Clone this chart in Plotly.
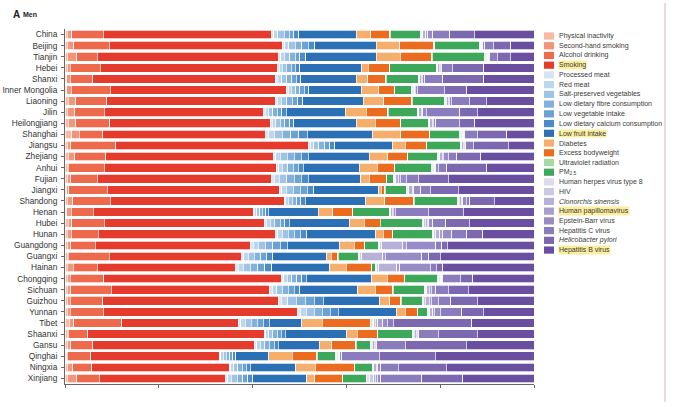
import plotly.graph_objects as go

provinces = ["China", "Beijing", "Tianjin", "Hebei", "Shanxi", "Inner Mongolia", "Liaoning", "Jilin",
             "Heilongjiang", "Shanghai", "Jiangsu", "Zhejiang", "Anhui", "Fujian", "Jiangxi", "Shandong",
             "Henan", "Hubei", "Hunan", "Guangdong", "Guangxi", "Hainan", "Chongqing", "Sichuan",
             "Guizhou", "Yunnan", "Tibet", "Shaanxi", "Gansu", "Qinghai", "Ningxia", "Xinjiang"]

factors = ["Physical inactivity", "Second-hand smoking", "Alcohol drinking", "Smoking", "Processed meat",
           "Red meat", "Salt-preserved vegetables", "Low dietary fibre consumption", "Low vegetable intake",
           "Low dietary calcium consumption", "Low fruit intake", "Diabetes", "Excess bodyweight",
           "Ultraviolet radiation", "PM<sub>2.5</sub>", "Human herpes virus type 8", "HIV",
           "<i>Clonorchis sinensis</i>", "Human papillomavirus", "Epstein-Barr virus", "Hepatitis C virus",
           "<i>Helicobacter pylori</i>", "Hepatitis B virus"]

highlighted = ["Smoking", "Low fruit intake", "Human papillomavirus", "Hepatitis B virus"]

colors = ["#f7b9a2", "#f4957b", "#ee6a4c", "#e53b2c", "#d6e5f4", "#bcd6ee", "#9fc4e6", "#82b2dc",
          "#6aa2d4", "#4b8cc8", "#2b6fb5", "#f6ae6d", "#ec6c1f", "#a7d9a3", "#3da85a", "#dcdcec",
          "#cac8e2", "#b7b1d8", "#a89fd0", "#978cc6", "#8a7cbd", "#7c68b1", "#6a4fa1"]

# Share of cancer deaths (%) by province, one list per risk factor (province order as above)
physical_inactivity = [0.5, 0.5, 0.5, 0.5, 0.4, 0.4, 0.7, 0.5, 0.7, 1.4, 0.5, 0.7, 0.5, 0.5, 0.4, 0.5,
                       0.4, 0.7, 0.5, 0.5, 0.5, 0.5, 0.5, 0.5, 0.5, 0.5, 0.9, 0.5, 0.5, 0.4, 0.5, 0.5]
second_hand_smoking = [0.9, 1.4, 2.0, 0.6, 0.7, 0.9, 1.6, 1.6, 1.6, 1.6, 0.7, 1.4, 0.2, 0.7, 0.4, 1.1,
                       0.9, 0.7, 0.8, 0.7, 0.2, 1.3, 0.6, 0.7, 0.6, 0.6, 1.0, 0.2, 0.7, 0.1, 1.1, 2.0]
alcohol_drinking = [6.8, 7.5, 4.4, 6.4, 4.8, 8.4, 6.6, 6.3, 7.2, 5.0, 9.6, 6.6, 7.7, 5.7, 8.2, 8.1,
                    4.7, 7.0, 5.8, 5.3, 8.7, 5.1, 7.1, 8.7, 7.0, 7.0, 10.2, 4.1, 4.7, 5.0, 4.1, 4.8]
smoking = [35.9, 36.9, 38.7, 37.9, 38.9, 37.5, 35.9, 33.9, 34.3, 34.8, 41.1, 35.7, 36.6, 37.2, 36.7, 37.0,
           34.3, 34.1, 37.8, 33.0, 28.3, 29.5, 38.0, 33.8, 37.5, 41.5, 24.9, 37.7, 34.6, 27.4, 29.4, 26.9]
processed_meat = [0.4, 0.6, 0.4, 0.3, 0.5, 0.4, 0.5, 0.4, 0.4, 0.6, 0.4, 0.5, 0.5, 0.5, 0.5, 0.3,
                  0.2, 0.4, 0.5, 0.6, 0.4, 0.5, 0.4, 0.5, 0.6, 0.6, 0.5, 0.3, 0.4, 0.3, 0.3, 0.4]
red_meat = [0.9, 0.8, 0.7, 0.6, 0.9, 0.7, 0.8, 0.7, 0.7, 1.2, 0.8, 1.0, 0.8, 1.1, 1.0, 0.6,
            0.5, 0.8, 0.9, 1.1, 0.9, 1.1, 0.7, 0.9, 1.3, 1.2, 0.9, 0.6, 0.7, 0.5, 0.6, 0.8]
salt_preserved_veg = [1.4, 1.4, 1.2, 0.9, 1.1, 0.9, 1.2, 0.9, 1.0, 1.7, 1.1, 1.5, 1.1, 1.6, 1.5, 0.9,
                      0.6, 1.0, 1.3, 1.5, 1.3, 1.5, 1.0, 1.2, 1.9, 1.7, 1.3, 0.9, 1.0, 0.7, 0.9, 1.2]
low_fibre = [1.0, 1.4, 1.2, 1.0, 1.0, 0.9, 1.1, 0.9, 1.0, 1.8, 1.2, 1.5, 1.2, 1.6, 1.5, 0.9,
             0.6, 1.1, 1.3, 1.6, 1.4, 1.6, 1.1, 1.3, 1.9, 1.7, 1.3, 0.9, 1.0, 0.7, 0.9, 1.2]
low_vegetable = [1.0, 1.4, 1.0, 0.9, 1.0, 1.0, 1.2, 1.0, 1.0, 1.7, 1.1, 1.5, 1.1, 1.5, 1.4, 0.9,
                 0.7, 1.0, 1.3, 1.6, 1.3, 1.5, 1.0, 1.3, 1.9, 1.7, 1.3, 0.9, 1.0, 0.7, 0.9, 1.1]
low_calcium = [1.0, 1.4, 1.2, 0.9, 1.0, 0.9, 1.1, 0.9, 0.9, 1.8, 1.1, 1.5, 1.1, 1.5, 1.4, 0.9,
               0.6, 1.0, 1.3, 1.5, 1.3, 1.5, 1.0, 1.2, 1.9, 1.7, 1.3, 0.8, 0.9, 0.6, 0.8, 1.1]
low_fruit = [12.4, 13.1, 15.1, 13.3, 11.8, 11.2, 12.9, 12.6, 13.3, 13.9, 12.2, 13.0, 11.9, 11.2, 13.9, 12.9,
             10.7, 12.7, 14.8, 11.2, 11.5, 12.3, 13.9, 12.3, 12.1, 12.4, 6.9, 13.1, 8.7, 7.0, 9.8, 11.4]
diabetes = [3.0, 5.0, 5.1, 1.4, 2.4, 3.8, 4.4, 4.5, 4.1, 6.0, 2.8, 3.9, 3.8, 1.8, 0.5, 4.1,
            3.1, 3.2, 1.6, 3.1, 0.9, 3.6, 3.3, 3.7, 2.1, 1.9, 4.3, 2.3, 2.7, 5.0, 4.1, 1.7]
excess_bodyweight = [4.0, 7.2, 6.6, 4.4, 3.9, 3.3, 5.9, 4.6, 5.3, 6.1, 4.5, 4.2, 3.6, 3.6, 0.8, 6.2,
                     4.1, 3.4, 1.9, 2.1, 1.4, 5.3, 3.7, 3.8, 2.4, 2.5, 10.4, 4.2, 5.1, 5.3, 8.3, 5.9]
ultraviolet = [0.1, 0.2, 0.2, 0.1, 0.1, 0.1, 0.1, 0.1, 0.1, 0.1, 0.1, 0.1, 0.1, 0.1, 0.1, 0.1,
               0.1, 0.1, 0.1, 0.1, 0.1, 0.1, 0.1, 0.1, 0.1, 0.1, 0.1, 0.1, 0.1, 0.1, 0.1, 0.1]
pm25 = [6.5, 9.5, 11.2, 10.0, 6.8, 3.6, 7.0, 6.2, 5.9, 6.4, 7.2, 6.3, 7.9, 1.4, 4.5, 9.1,
        7.9, 9.0, 8.5, 2.9, 4.3, 0.7, 7.0, 6.6, 4.5, 2.1, 0.3, 7.5, 3.1, 3.9, 3.8, 5.0]
hhv8 = [0.2, 0.1, 0.1, 0.1, 0.1, 0.1, 0.1, 0.1, 0.1, 0.1, 0.1, 0.2, 0.1, 0.2, 0.2, 0.3,
        0.1, 0.2, 0.2, 0.3, 0.2, 0.3, 0.1, 0.2, 0.2, 0.2, 0.2, 0.1, 0.1, 0.1, 0.1, 0.8]
hiv = [0.3, 0.2, 0.2, 0.2, 0.2, 0.2, 0.2, 0.2, 0.2, 0.2, 0.2, 0.3, 0.2, 0.3, 0.3, 0.2,
       0.2, 0.3, 0.4, 0.4, 0.5, 0.5, 0.2, 0.3, 0.4, 0.3, 0.3, 0.2, 0.2, 0.2, 0.2, 0.8]
clonorchis = [0.6, 0.3, 0.3, 0.3, 0.4, 0.3, 0.4, 0.5, 0.5, 0.3, 0.3, 0.5, 0.4, 0.6, 0.7, 0.4,
              0.3, 0.5, 0.9, 4.5, 4.5, 3.8, 0.3, 0.6, 0.8, 0.6, 0.6, 0.4, 0.4, 0.4, 0.5, 0.3]
hpv = [0.4, 0.2, 0.2, 0.2, 0.2, 0.2, 0.2, 0.3, 0.2, 0.2, 0.2, 0.3, 0.2, 0.4, 0.4, 0.3,
       0.2, 0.3, 0.6, 0.8, 0.5, 0.7, 0.2, 0.4, 0.5, 0.4, 1.0, 0.2, 0.2, 0.2, 0.3, 0.4]
ebv = [1.1, 0.4, 0.3, 0.3, 0.5, 0.4, 0.5, 0.7, 0.6, 0.3, 0.3, 1.0, 0.5, 1.3, 1.5, 0.8,
       0.4, 0.8, 2.0, 6.3, 7.8, 6.5, 0.3, 1.0, 1.5, 1.2, 1.0, 0.4, 0.4, 0.4, 0.7, 0.8]
hcv = [3.6, 1.8, 1.6, 2.3, 3.8, 5.7, 3.8, 7.2, 5.0, 2.6, 1.6, 1.8, 1.8, 2.5, 2.0, 0.7,
       7.1, 2.8, 3.2, 1.2, 1.5, 1.3, 3.7, 2.6, 2.6, 4.6, 1.3, 4.1, 6.0, 8.0, 3.7, 8.7]
h_pylori = [5.3, 3.7, 2.7, 6.7, 8.8, 4.8, 3.6, 3.7, 3.3, 6.3, 7.5, 5.1, 8.5, 6.4, 6.0, 5.2,
            7.5, 5.0, 3.4, 1.2, 2.4, 1.3, 2.6, 4.3, 5.7, 4.6, 16.7, 8.3, 13.1, 11.9, 10.3, 8.7]
hbv = [12.7, 5.0, 5.1, 10.7, 10.7, 14.4, 10.2, 12.1, 12.6, 5.8, 5.5, 11.4, 10.1, 18.3, 16.1, 8.5,
       15.1, 13.8, 10.9, 18.5, 20.0, 19.5, 13.1, 14.0, 12.1, 10.8, 13.3, 12.1, 14.4, 21.1, 18.7, 15.2]

series = [physical_inactivity, second_hand_smoking, alcohol_drinking, smoking, processed_meat, red_meat,
          salt_preserved_veg, low_fibre, low_vegetable, low_calcium, low_fruit, diabetes, excess_bodyweight,
          ultraviolet, pm25, hhv8, hiv, clonorchis, hpv, ebv, hcv, h_pylori, hbv]

FONT = "Liberation Sans Narrow, Liberation Sans, Arial, sans-serif"

fig = go.Figure()
for name, vals, col in zip(factors, series, colors):
    fig.add_trace(go.Bar(
        y=provinces, x=vals, name=name, orientation="h",
        marker=dict(color=col, line=dict(color="white", width=0.7)),
        showlegend=False,
    ))

W, H = 681, 407
ML, MR, MT, MB = 65, 147, 29, 23
PW, PH = W - ML - MR, H - MT - MB


def px(xp):
    return (xp - ML) / PW


def py(yp):
    return (H - MB - yp) / PH


shapes = []
annotations = []
for i, (name, col) in enumerate(zip(factors, colors)):
    yc = 36 + 9.73 * i
    shapes.append(dict(type="rect", xref="paper", yref="paper",
                       x0=px(544), x1=px(554), y0=py(yc + 3.6), y1=py(yc - 3.6),
                       fillcolor=col, line=dict(width=0)))
    plain = name.replace("<i>", "").replace("</i>", "")
    annotations.append(dict(xref="paper", yref="paper", x=px(557.5), y=py(yc),
                            xanchor="left", yanchor="middle", showarrow=False, text=name,
                            font=dict(size=7, color="#3a3a3a", family=FONT),
                            bgcolor="#fcee9f" if plain in highlighted else "rgba(0,0,0,0)",
                            borderpad=0))

# panel separator line on the right
shapes.append(dict(type="line", xref="paper", yref="paper", x0=px(665), x1=px(665),
                   y0=py(3), y1=py(402), line=dict(color="#d9b3b8", width=1)))

annotations.append(dict(xref="paper", yref="paper", x=px(10.5), y=py(14), xanchor="left",
                        yanchor="middle", showarrow=False, text="<b>A</b>",
                        font=dict(size=10, color="#222", family=FONT)))
annotations.append(dict(xref="paper", yref="paper", x=px(21), y=py(14.5), xanchor="left",
                        yanchor="middle", showarrow=False, text="<b>Men</b>",
                        font=dict(size=7, color="#222", family=FONT)))

fig.update_layout(
    width=W, height=H,
    margin=dict(l=ML, r=MR, t=MT, b=MB, autoexpand=False),
    barmode="stack", barnorm="percent", bargap=0.22,
    plot_bgcolor="white", paper_bgcolor="white",
    shapes=shapes, annotations=annotations,
    xaxis=dict(range=[0, 100], tickvals=[0, 20, 40, 60, 80, 100], showticklabels=False,
               ticks="outside", ticklen=3, tickcolor="#666", showline=True, linecolor="#666",
               linewidth=1, showgrid=False, zeroline=False, fixedrange=True, automargin=False),
    yaxis=dict(categoryorder="array", categoryarray=provinces, autorange="reversed",
               ticks="outside", ticklen=3, tickcolor="#666", showline=True, linecolor="#666",
               linewidth=1, showgrid=False, tickfont=dict(size=8.3, color="#333", family=FONT),
               ticklabelstandoff=2, automargin=False),
    showlegend=False,
)

fig.write_html("out.html")
